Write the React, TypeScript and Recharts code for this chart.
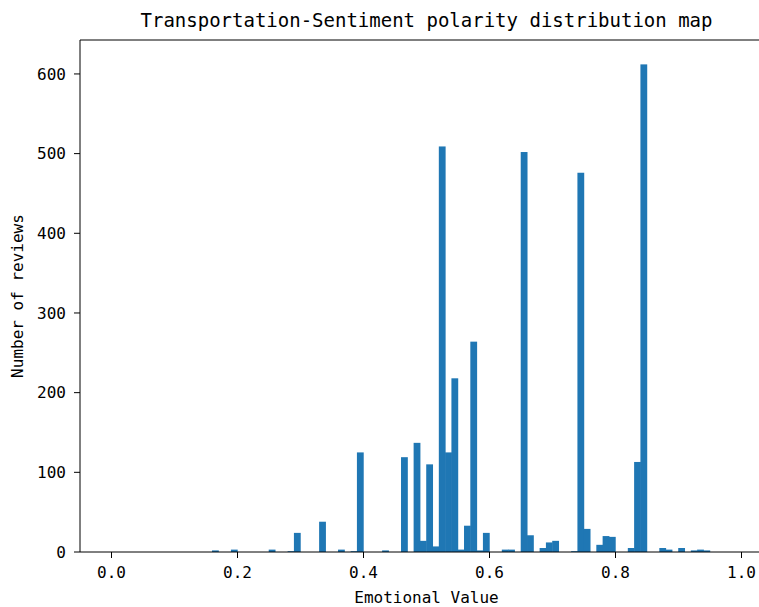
import React from 'react';
import { BarChart, Bar, XAxis, YAxis, ReferenceLine } from 'recharts';

// histogram bins (width 0.01) that hold reviews; the rest are empty
const binCenters = [
  0.165, 0.195, 0.255, 0.285, 0.295, 0.335, 0.365, 0.385, 0.395, 0.435,
  0.465, 0.485, 0.495, 0.505, 0.515, 0.525, 0.535, 0.545, 0.555, 0.565,
  0.575, 0.585, 0.595, 0.625, 0.635, 0.655, 0.665, 0.685, 0.695, 0.705,
  0.735, 0.745, 0.755, 0.775, 0.785, 0.795, 0.825, 0.835, 0.845, 0.875,
  0.885, 0.905, 0.925, 0.935, 0.945,
];
const reviewCounts = [
  2, 3, 3, 1, 24, 38, 3, 1, 125, 2,
  119, 137, 14, 110, 7, 509, 125, 218, 3, 33,
  264, 2, 24, 3, 3, 502, 21, 5, 12, 14,
  1, 476, 29, 9, 20, 19, 5, 113, 612, 5,
  3, 5, 2, 3, 2,
];
const xTicks = [0, 0.2, 0.4, 0.6, 0.8, 1.0];
const yTicks = [0, 100, 200, 300, 400, 500, 600];

const TITLE = 'Transportation-Sentiment polarity distribution map';
const FONT = '"DejaVu Sans Mono", monospace';
const BLUE = '#1f77b4';
const Y_MAX = 642.6;

const data = binCenters.map((x, i) => ({ x, count: reviewCounts[i] }));

const CHART_W = 790;
const CHART_H = 607;
const PLOT_LEFT = 80;
const PLOT_RIGHT_MARGIN = 17;
const plotWidth = CHART_W - PLOT_LEFT - PLOT_RIGHT_MARGIN;
const binPx = (plotWidth / 1.1) * 0.01;

const tickStyle = { fontFamily: FONT, fontSize: 16, fill: '#000' };

// draw each bar a full bin wide around the centre recharts gives it,
// with a hair of overlap so neighbouring bins merge like matplotlib's
const HistBar = (props: any) => {
  const { x, y, width, height } = props;
  if (!height || height <= 0) return null;
  const cx = x + width / 2;
  const w = binPx + 0.5;
  return <rect x={cx - w / 2} y={y} width={w} height={height} fill={BLUE} />;
};

export default function App() {
  return (
    <div style={{ position: 'fixed', left: 0, top: 0, width: 759, height: 607, overflow: 'hidden', background: '#fff' }}>
      <BarChart
        width={CHART_W}
        height={CHART_H}
        data={data}
        margin={{ top: 40, right: PLOT_RIGHT_MARGIN, bottom: 0, left: 0 }}
        barCategoryGap={0}
        barGap={0}
      >
        <XAxis
          type="number"
          dataKey="x"
          domain={[-0.05, 1.05]}
          allowDataOverflow
          ticks={xTicks}
          tickFormatter={(v: number) => v.toFixed(1)}
          height={55}
          tickSize={6}
          tickMargin={9}
          tick={tickStyle}
          tickLine={{ stroke: '#000' }}
          axisLine={{ stroke: '#000', strokeWidth: 1 }}
          label={{ value: 'Emotional Value', position: 'insideBottom', offset: 4, style: { fontFamily: FONT, fontSize: 16, fill: '#000' } }}
        />
        <YAxis
          type="number"
          domain={[0, Y_MAX]}
          allowDataOverflow
          ticks={yTicks}
          width={PLOT_LEFT}
          tickSize={6}
          tickMargin={8}
          tick={tickStyle}
          tickLine={{ stroke: '#000' }}
          axisLine={{ stroke: '#000', strokeWidth: 1 }}
          label={{ value: 'Number of reviews', angle: -90, position: 'insideLeft', offset: 17, style: { textAnchor: 'middle', fontFamily: FONT, fontSize: 16, fill: '#000' } }}
        />
        <Bar dataKey="count" fill={BLUE} barSize={binPx * 0.99} shape={HistBar} isAnimationActive={false} />
        <ReferenceLine
          y={Y_MAX}
          stroke="#000"
          strokeWidth={1}
          ifOverflow="visible"
          label={{ value: TITLE, position: 'top', offset: 13, style: { fontFamily: FONT, fontSize: 19, fill: '#000' } }}
        />
      </BarChart>
    </div>
  );
}
